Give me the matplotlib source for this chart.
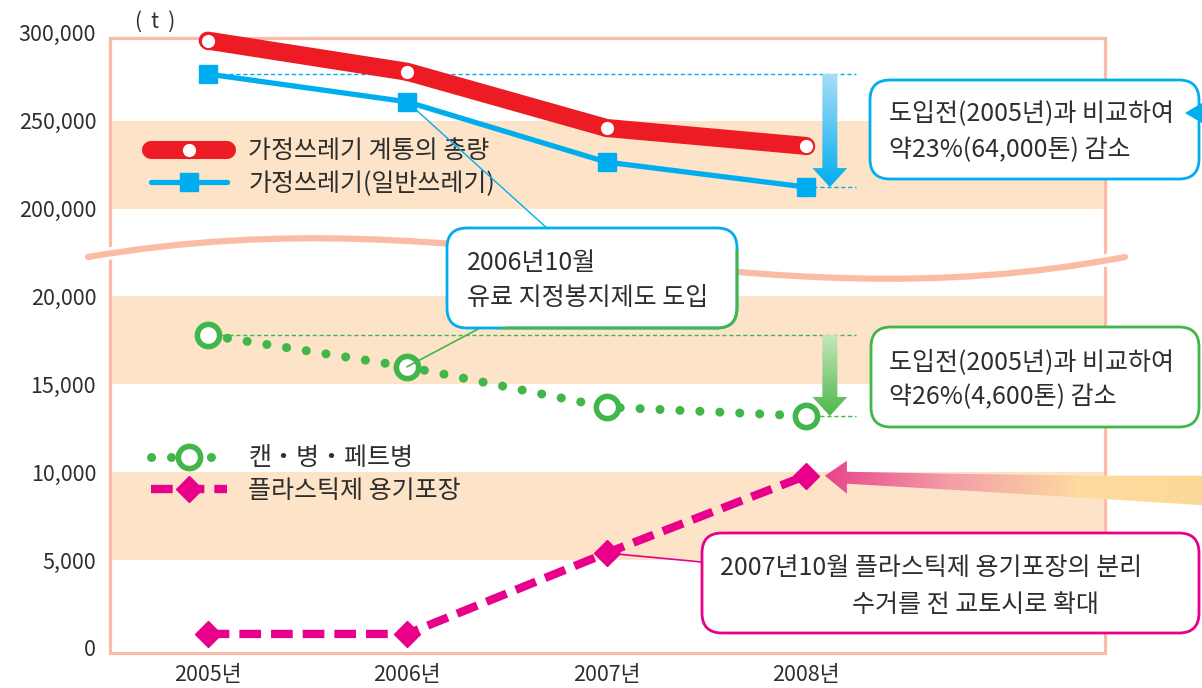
import numpy as np
import matplotlib
matplotlib.use('Agg')
import matplotlib.pyplot as plt
import matplotlib.transforms as mtransforms
from matplotlib.patches import Polygon, FancyBboxPatch, PathPatch, Rectangle
from matplotlib.path import Path
from matplotlib.colors import LinearSegmentedColormap

plt.rcParams['font.family'] = ['Noto Sans CJK KR', 'DejaVu Sans']

years = ['2005년', '2006년', '2007년', '2008년']
total_waste = [295500, 277800, 245800, 235600]      # 가정쓰레기 계통의 총량
general_waste = [276500, 260700, 226400, 212200]    # 가정쓰레기(일반쓰레기)
cans_bottles = [17800, 16000, 13700, 13200]         # 캔・병・페트병
plastic_pack = [800, 800, 5400, 9800]               # 플라스틱제 용기포장
ytick_vals = [0, 5000, 10000, 15000, 20000, 200000, 250000, 300000]
band_ranges = [(5000, 10000), (15000, 20000), (200000, 250000)]
frame_top = 297000

series_labels = ['가정쓰레기 계통의 총량', '가정쓰레기(일반쓰레기)', '캔・병・페트병', '플라스틱제 용기포장']
note_general = ['도입전(2005년)과 비교하여', '약23%(64,000톤) 감소']
note_cans = ['도입전(2005년)과 비교하여', '약26%(4,600톤) 감소']
note_bag = ['2006년10월', '유료 지정봉지제도 도입']
note_plastic = ['2007년10월 플라스틱제 용기포장의 분리', '수거를 전 교토시로 확대']

RED = '#ed1c24'
BLUE = '#00aeef'
GREEN = '#41b649'
PINK = '#e8008a'
FRAME = '#fbbca6'
BAND = '#fde4c9'
TEXT = '#2e2e2e'
FS = 18


# broken axis: 0-20,000 and 200,000-300,000 share the same tick spacing
def fwd(v):
    v = np.asarray(v, dtype=float)
    return np.where(v <= 20000, v / 5000,
                    np.where(v >= 200000, 5 + (v - 200000) / 50000, 4 + (v - 20000) / 180000))


def inv(u):
    u = np.asarray(u, dtype=float)
    return np.where(u <= 4, u * 5000,
                    np.where(u >= 5, 200000 + (u - 5) * 50000, 20000 + (u - 4) * 180000))


W, H = 1202, 688
fig = plt.figure(figsize=(W / 100, H / 100), dpi=100)

U0, UPX = 648.0, 87.9
u_lo, u_hi = -0.057, 7.06
ax_top = U0 - u_hi * UPX
ax_bot = U0 - u_lo * UPX
ax = fig.add_axes([110 / W, 1 - ax_bot / H, 995 / W, (ax_bot - ax_top) / H])
ax.set_yscale('function', functions=(fwd, inv))
ax.set_ylim(float(inv(u_lo)), float(inv(u_hi)))
ax.set_xlim(-0.49, 4.5)
for s in ax.spines.values():
    s.set_visible(False)

blend = mtransforms.blended_transform_factory(ax.transAxes, ax.transData)
ax.add_patch(Rectangle((0, float(inv(u_lo))), 1, frame_top - float(inv(u_lo)), transform=blend,
                       fill=False, ec=FRAME, lw=2.3, clip_on=False, zorder=1))
for lo, hi in band_ranges:
    ax.axhspan(lo, hi, color=BAND, lw=0, zorder=0)

ax.set_yticks(ytick_vals)
ax.set_yticklabels([f'{v:,}' for v in ytick_vals])
ax.set_xticks(range(len(years)))
ax.set_xticklabels(years)
ax.tick_params(axis='y', length=0, pad=10, labelsize=15.5, labelcolor=TEXT)
ax.tick_params(axis='x', length=0, pad=8, labelsize=15.5, labelcolor=TEXT)

x = np.arange(len(years))

# reference lines for the reductions
ax.hlines(general_waste[0], 0, 3.25, colors=BLUE, linestyles=(0, (3, 2)), lw=1, zorder=2)
ax.hlines(general_waste[-1], 3, 3.25, colors=BLUE, linestyles=(0, (3, 2)), lw=1, zorder=2)
ax.hlines(cans_bottles[0], 0, 3.25, colors=GREEN, linestyles=(0, (3, 2)), lw=1, zorder=2)
ax.hlines(cans_bottles[-1], 3, 3.25, colors=GREEN, linestyles=(0, (3, 2)), lw=1, zorder=2)

l_red, = ax.plot(x, total_waste, color=RED, lw=13, solid_capstyle='round', solid_joinstyle='round',
                 marker='o', ms=11, mfc='white', mec=RED, mew=1.5, clip_on=False, zorder=5)
l_blue, = ax.plot(x, general_waste, color=BLUE, lw=3.8, solid_capstyle='round',
                  marker='s', ms=13, mfc=BLUE, mec=BLUE, clip_on=False, zorder=4)
l_green, = ax.plot(x, cans_bottles, color=GREEN, lw=6.5, linestyle=(0, (0.01, 2.2)), dash_capstyle='round',
                   marker='o', ms=16, mfc='white', mec=GREEN, mew=4, clip_on=False, zorder=4)
l_pink, = ax.plot(x, plastic_pack, color=PINK, lw=6, linestyle=(0, (2.6, 1.2)), dash_capstyle='butt',
                  marker='D', ms=13, mfc=PINK, mec=PINK, clip_on=False, zorder=4)

leg_kw = dict(loc='center left', bbox_transform=fig.transFigure, frameon=False, fontsize=FS,
              handlelength=3.05, handletextpad=0.85, borderpad=0, borderaxespad=0,
              labelspacing=0.25, labelcolor=TEXT)
leg1 = ax.legend([l_red, l_blue], series_labels[:2], bbox_to_anchor=(151 / W, 1 - 167.5 / H), **leg_kw)
ax.add_artist(leg1)
ax.legend([l_green, l_pink], series_labels[2:], bbox_to_anchor=(151 / W, 1 - 474.5 / H), **leg_kw)

# overlay in pixel coordinates (y down) for callouts and arrows
ov = fig.add_axes([0, 0, 1, 1])
ov.patch.set_visible(False)
ov.text(155, 22, '(  t  )', fontsize=15, color=TEXT, ha='center', va='center')


def to_img(xv, v):
    d = ax.transData.transform((xv, float(v)))
    return d[0], H - d[1]


def grad_patch(verts, colors, horizontal=False, z=6):
    poly = Polygon(verts, closed=True, fc='none', ec='none', transform=ov.transData)
    ov.add_patch(poly)
    xs = [p[0] for p in verts]
    ys = [p[1] for p in verts]
    cmap = LinearSegmentedColormap.from_list('g', colors)
    g = np.linspace(0, 1, 256)[None, :] if horizontal else np.linspace(0, 1, 256)[:, None]
    im = ov.imshow(g, cmap=cmap, extent=(min(xs), max(xs), max(ys), min(ys)), origin='upper',
                   aspect='auto', interpolation='bilinear', zorder=z)
    im.set_clip_path(poly)


def down_arrow(xc, yt, yb, colors):
    verts = [(xc - 7.5, yt), (xc + 7.5, yt), (xc + 7.5, yb - 19), (xc + 17.5, yb - 19),
             (xc, yb), (xc - 17.5, yb - 19), (xc - 7.5, yb - 19)]
    grad_patch(verts, colors)


# axis break
brk = Path([(88, 257), (480, 190), (740, 330), (1125, 257)],
           [Path.MOVETO, Path.CURVE4, Path.CURVE4, Path.CURVE4])
ov.add_patch(PathPatch(brk, fc='none', ec='white', lw=9, capstyle='round', zorder=1))
ov.add_patch(PathPatch(brk, fc='none', ec=FRAME, lw=4.5, capstyle='round', zorder=2))

# reduction arrows
xc, yt = to_img(3.12, general_waste[0])
_, yb = to_img(3.12, general_waste[-1])
down_arrow(xc, yt, yb, ['#a9ddf6', BLUE])
_, yt = to_img(3.12, cans_bottles[0])
_, yb = to_img(3.12, cans_bottles[-1])
down_arrow(xc, yt, yb, ['#c6e6bd', '#4cb848'])

# big arrow pointing at 2008 plastic value
tx, ty = to_img(3, plastic_pack[-1])
tx += 19
big = [(tx, ty), (tx + 22, ty - 15), (tx + 22, ty - 4), (tx + 125, ty - 2), (tx + 275, ty), (tx + 385, ty),
       (tx + 385, ty + 30), (tx + 275, ty + 23), (tx + 125, ty + 14), (tx + 22, ty + 8), (tx + 22, ty + 18)]
grad_patch(big, ['#e9448a', '#f3a0a8', '#fddca0', '#fdd996'], horizontal=True)

# leader lines
bx, by = to_img(1, general_waste[1])
ov.plot([bx, 548], [by, 229], color=BLUE, lw=1, zorder=3)
gx, gy = to_img(1, cans_bottles[1])
ov.plot([gx, 480], [gy, 328], color=GREEN, lw=1.2, zorder=3)
px_, py_ = to_img(2, plastic_pack[2])
ov.plot([px_, 702], [py_, 562], color=PINK, lw=1.2, zorder=3)


def callout(x0, y0, w, h, ec, lines, xs, ys):
    ov.add_patch(FancyBboxPatch((x0, y0), w, h, boxstyle='round,pad=0,rounding_size=20',
                                fc='white', ec=ec, lw=2, zorder=4))
    for s, xt, yt_ in zip(lines, xs, ys):
        ov.text(xt, yt_, s, fontsize=FS, color=TEXT, ha='left', va='center', zorder=5)


callout(870, 80, 329, 99, BLUE, note_general, [889, 889], [113, 150])
ov.add_patch(Polygon([(1185, 113), (1212, 97), (1212, 129)], closed=True, fc=BLUE, ec='none', zorder=5))
callout(871, 327, 328, 100, GREEN, note_cans, [889, 889], [362, 397])
callout(447, 228, 290, 100, BLUE, note_bag, [467, 467], [263, 298])
edge = FancyBboxPatch((447, 228), 290, 100, boxstyle='round,pad=0,rounding_size=20',
                      fc='none', ec=GREEN, lw=2, zorder=4.5)
ov.add_patch(edge)
edge.set_clip_path(Polygon([(465, 340), (750, 245), (750, 345), (440, 345)], closed=True,
                           transform=ov.transData))
callout(702, 533, 497, 100, PINK, note_plastic, [720, 852], [568, 605])

ov.set_xlim(0, W)
ov.set_ylim(H, 0)
ov.axis('off')

fig.savefig('out.png', dpi=100, facecolor='white')
